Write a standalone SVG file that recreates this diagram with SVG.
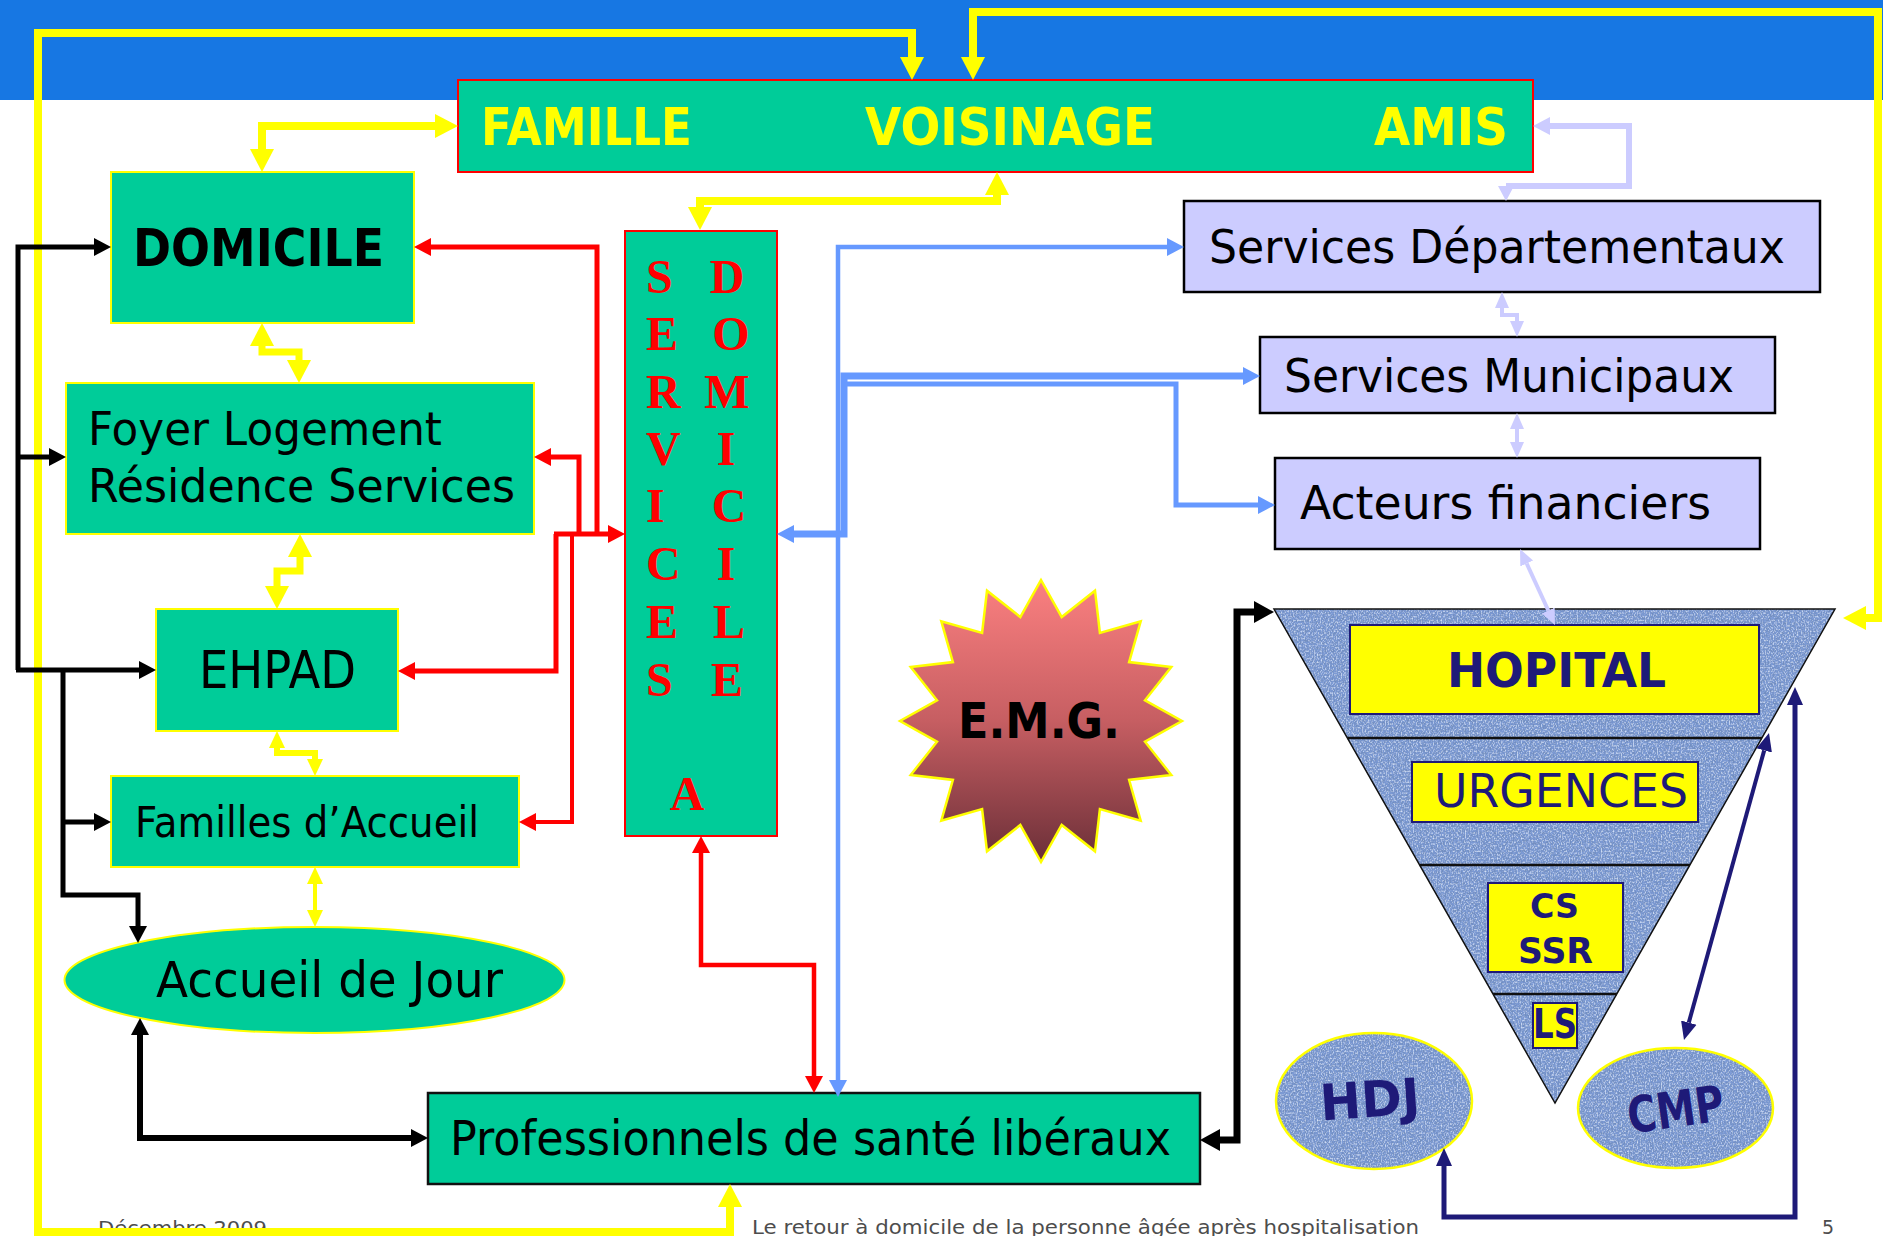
<svg xmlns="http://www.w3.org/2000/svg" width="1883" height="1236" viewBox="0 0 1883 1236">
<defs>
<style>
.t{font-family:"DejaVu Sans","Liberation Sans",sans-serif;}
.b{font-weight:bold;}
.g{fill:#00CC99;}
.lav{fill:#CCCCFF;stroke:#000;stroke-width:2.5;}
.yb{fill:#FFFF00;stroke:#1E1A78;stroke-width:2;}
.nv{fill:#1E1A78;}
.sv{font-family:"Liberation Serif","Times New Roman",serif;font-weight:bold;font-size:48px;fill:#FF0000;}
.ft{font-family:"DejaVu Sans","Liberation Sans",sans-serif;font-size:19px;fill:#4D4D4D;}
.cn{fill:none;stroke-linejoin:miter;}
</style>
<linearGradient id="emg" x1="0" y1="0" x2="0" y2="1">
<stop offset="0" stop-color="#FB8080"/>
<stop offset="0.5" stop-color="#C65E62"/>
<stop offset="1" stop-color="#6B2F38"/>
</linearGradient>
<filter id="denim" x="0" y="0" width="1" height="1">
<feTurbulence type="fractalNoise" baseFrequency="0.6 0.4" numOctaves="2" seed="5" result="n"/>
<feColorMatrix in="n" type="matrix" values="0 0 0 0 0.17  0 0 0 0 0.27  0 0 0 0 0.52  3.2 0 0 0 -1.25" result="dk"/>
<feComposite in="dk" in2="SourceGraphic" operator="in" result="dk2"/>
<feTurbulence type="fractalNoise" baseFrequency="0.75 0.55" numOctaves="1" seed="11" result="n2"/>
<feColorMatrix in="n2" type="matrix" values="0 0 0 0 0.70  0 0 0 0 0.80  0 0 0 0 0.97  2.6 0 0 0 -1.25" result="lt"/>
<feComposite in="lt" in2="SourceGraphic" operator="in" result="lt2"/>
<feMerge><feMergeNode in="SourceGraphic"/><feMergeNode in="dk2"/><feMergeNode in="lt2"/></feMerge>
</filter>
<marker id="aY" markerUnits="userSpaceOnUse" markerWidth="24" markerHeight="26" viewBox="0 -13 24 26" refX="0" refY="0" orient="auto-start-reverse"><path d="M0,-12 L23,0 L0,12 Z" fill="#FFFF00"/></marker>
<marker id="aYs" markerUnits="userSpaceOnUse" markerWidth="18" markerHeight="18" viewBox="0 -9 18 18" refX="0" refY="0" orient="auto-start-reverse"><path d="M0,-8 L17,0 L0,8 Z" fill="#FFFF00"/></marker>
<marker id="aR" markerUnits="userSpaceOnUse" markerWidth="18" markerHeight="20" viewBox="0 -10 18 20" refX="0" refY="0" orient="auto-start-reverse"><path d="M0,-9 L17,0 L0,9 Z" fill="#FF0000"/></marker>
<marker id="aK" markerUnits="userSpaceOnUse" markerWidth="18" markerHeight="20" viewBox="0 -10 18 20" refX="0" refY="0" orient="auto-start-reverse"><path d="M0,-9 L17,0 L0,9 Z" fill="#000"/></marker>
<marker id="aK2" markerUnits="userSpaceOnUse" markerWidth="21" markerHeight="24" viewBox="0 -12 21 24" refX="0" refY="0" orient="auto-start-reverse"><path d="M0,-11 L20,0 L0,11 Z" fill="#000"/></marker>
<marker id="aB" markerUnits="userSpaceOnUse" markerWidth="18" markerHeight="20" viewBox="0 -10 18 20" refX="0" refY="0" orient="auto-start-reverse"><path d="M0,-9 L17,0 L0,9 Z" fill="#6699FF"/></marker>
<marker id="aL" markerUnits="userSpaceOnUse" markerWidth="18" markerHeight="20" viewBox="0 -10 18 20" refX="0" refY="0" orient="auto-start-reverse"><path d="M0,-9 L17,0 L0,9 Z" fill="#CCCCFF"/></marker>
<marker id="aLd" markerUnits="userSpaceOnUse" markerWidth="16" markerHeight="18" viewBox="0 -9 16 18" refX="0" refY="0" orient="90"><path d="M0,-8 L15,0 L0,8 Z" fill="#CCCCFF"/></marker>
<marker id="aLs" markerUnits="userSpaceOnUse" markerWidth="17" markerHeight="16" viewBox="0 -8 17 16" refX="0" refY="0" orient="auto-start-reverse"><path d="M0,-7 L16,0 L0,7 Z" fill="#CCCCFF"/></marker>
<marker id="aN" markerUnits="userSpaceOnUse" markerWidth="19" markerHeight="18" viewBox="0 -9 19 18" refX="0" refY="0" orient="auto-start-reverse"><path d="M0,-8 L18,0 L0,8 Z" fill="#1E1A78"/></marker>
</defs>

<rect x="0" y="0" width="1883" height="1236" fill="#FFFFFF"/>
<rect x="0" y="0" width="1883" height="100" fill="#1777E3"/>

<g id="footer">
<text class="ft" x="98" y="1235" textLength="169" lengthAdjust="spacingAndGlyphs">Décembre 2009</text>
<text class="ft" x="752" y="1234" textLength="667" lengthAdjust="spacingAndGlyphs">Le retour à domicile de la personne âgée après hospitalisation</text>
<text class="ft" x="1822" y="1234">5</text>
</g>

<g id="famille">
<rect class="g" x="458" y="80" width="1075" height="92" stroke="#FF0000" stroke-width="2"/>
<text class="t b" x="481" y="145" font-size="52" fill="#FFFF00" textLength="211" lengthAdjust="spacingAndGlyphs">FAMILLE</text>
<text class="t b" x="865" y="145" font-size="52" fill="#FFFF00" textLength="290" lengthAdjust="spacingAndGlyphs">VOISINAGE</text>
<text class="t b" x="1374" y="145" font-size="52" fill="#FFFF00" textLength="134" lengthAdjust="spacingAndGlyphs">AMIS</text>
</g>

<g id="domicile">
<rect class="g" x="111" y="172" width="303" height="151" stroke="#FFFF00" stroke-width="2"/>
<text class="t b" x="133" y="266" font-size="52" fill="#000" textLength="251" lengthAdjust="spacingAndGlyphs">DOMICILE</text>
</g>

<g id="foyer">
<rect class="g" x="66" y="383" width="468" height="151" stroke="#FFFF00" stroke-width="2"/>
<text class="t" x="88" y="445" font-size="46" fill="#000" textLength="354" lengthAdjust="spacingAndGlyphs">Foyer Logement</text>
<text class="t" x="88" y="502" font-size="46" fill="#000" textLength="427" lengthAdjust="spacingAndGlyphs">Résidence Services</text>
</g>

<g id="ehpad">
<rect class="g" x="156" y="609" width="242" height="122" stroke="#FFFF00" stroke-width="2"/>
<text class="t" x="199" y="688" font-size="52" fill="#000" textLength="157" lengthAdjust="spacingAndGlyphs">EHPAD</text>
</g>

<g id="familles">
<rect class="g" x="111" y="776" width="408" height="91" stroke="#FFFF00" stroke-width="2"/>
<text class="t" x="135" y="837" font-size="42" fill="#000" textLength="344" lengthAdjust="spacingAndGlyphs">Familles d’Accueil</text>
</g>

<g id="accueil-jour">
<ellipse class="g" cx="314.5" cy="980" rx="250" ry="53" stroke="#FFFF00" stroke-width="2"/>
<text class="t" x="156" y="997" font-size="50" fill="#000" textLength="347" lengthAdjust="spacingAndGlyphs">Accueil de Jour</text>
</g>

<g id="professionnels">
<rect class="g" x="428" y="1093" width="772" height="91" stroke="#111" stroke-width="2.5"/>
<text class="t" x="450" y="1155" font-size="48" fill="#000" textLength="721" lengthAdjust="spacingAndGlyphs">Professionnels de santé libéraux</text>
</g>

<g id="services-a-domicile">
<rect class="g" x="625" y="231" width="152" height="605" stroke="#FF0000" stroke-width="2"/>
<text class="sv" x="646" y="293">S</text>
<text class="sv" x="646" y="350">E</text>
<text class="sv" x="646" y="408">R</text>
<text class="sv" x="646" y="465">V</text>
<text class="sv" x="646" y="522">I</text>
<text class="sv" x="646" y="580">C</text>
<text class="sv" x="646" y="638">E</text>
<text class="sv" x="646" y="696">S</text>
<text class="sv" x="727" y="293" text-anchor="middle">D</text>
<text class="sv" x="731" y="350" text-anchor="middle">O</text>
<text class="sv" x="727" y="408" text-anchor="middle">M</text>
<text class="sv" x="726" y="465" text-anchor="middle">I</text>
<text class="sv" x="729" y="522" text-anchor="middle">C</text>
<text class="sv" x="726" y="580" text-anchor="middle">I</text>
<text class="sv" x="729" y="638" text-anchor="middle">L</text>
<text class="sv" x="727" y="696" text-anchor="middle">E</text>
<text class="sv" x="687" y="810" text-anchor="middle">A</text>
</g>

<g id="services-departementaux">
<rect class="lav" x="1184" y="201" width="636" height="91"/>
<text class="t" x="1209" y="263" font-size="47" fill="#000" textLength="576" lengthAdjust="spacingAndGlyphs">Services Départementaux</text>
</g>

<g id="services-municipaux">
<rect class="lav" x="1260" y="337" width="515" height="76"/>
<text class="t" x="1284" y="392" font-size="47" fill="#000" textLength="450" lengthAdjust="spacingAndGlyphs">Services Municipaux</text>
</g>

<g id="acteurs-financiers">
<rect class="lav" x="1275" y="458" width="485" height="91"/>
<text class="t" x="1300" y="519" font-size="46" fill="#000" textLength="411" lengthAdjust="spacingAndGlyphs">Acteurs financiers</text>
</g>

<g id="emg">
<polygon points="1041,580 1061.7,617 1095,590.7 1099.9,632.9 1140.7,621.3 1129.1,662.1 1171.3,667 1145,700.3 1182,721 1145,741.7 1171.3,775 1129.1,779.9 1140.7,820.7 1099.9,809.1 1095,851.3 1061.7,825 1041,862 1020.3,825 987,851.3 982.1,809.1 941.3,820.7 952.9,779.9 910.7,775 937,741.7 900,721 937,700.3 910.7,667 952.9,662.1 941.3,621.3 982.1,632.9 987,590.7 1020.3,617" fill="url(#emg)" stroke="#FFFF00" stroke-width="2.5" stroke-linejoin="miter"/>
<text class="t b" x="958" y="738" font-size="50" fill="#000" textLength="162" lengthAdjust="spacingAndGlyphs">E.M.G.</text>
</g>

<g id="hopital-pyramide">
<polygon points="1274,609 1835,609 1555,1103" fill="#7B9AD4" filter="url(#denim)"/>
<polygon points="1274,609 1835,609 1555,1103" fill="none" stroke="#111" stroke-width="1.5"/>
<line x1="1347.4" y1="738" x2="1762" y2="738" stroke="#111" stroke-width="2.5"/>
<line x1="1419.6" y1="865" x2="1690" y2="865" stroke="#111" stroke-width="2.5"/>
<line x1="1493" y1="994" x2="1617" y2="994" stroke="#111" stroke-width="2.5"/>
</g>

<g id="hopital">
<rect class="yb" x="1350" y="625" width="409" height="89"/>
<text class="t b nv" x="1447" y="687" font-size="48" textLength="219" lengthAdjust="spacingAndGlyphs">HOPITAL</text>
</g>
<g id="urgences">
<rect class="yb" x="1412" y="762" width="286" height="60"/>
<text class="t nv" x="1434" y="807" font-size="46" textLength="254" lengthAdjust="spacingAndGlyphs">URGENCES</text>
</g>
<g id="cs-ssr">
<rect class="yb" x="1488" y="883" width="135" height="89"/>
<text class="t b nv" x="1530" y="918" font-size="34" textLength="49" lengthAdjust="spacingAndGlyphs">CS</text>
<text class="t b nv" x="1518" y="963" font-size="35" textLength="75" lengthAdjust="spacingAndGlyphs">SSR</text>
</g>
<g id="ls">
<rect class="yb" x="1533" y="1003" width="44" height="45"/>
<text class="t b nv" x="1533" y="1038" font-size="40" textLength="44" lengthAdjust="spacingAndGlyphs">LS</text>
</g>

<g id="hdj">
<ellipse cx="1374" cy="1101" rx="98" ry="68" fill="#7B9AD4" filter="url(#denim)"/>
<ellipse cx="1374" cy="1101" rx="98" ry="68" fill="none" stroke="#FFFF00" stroke-width="2.5"/>
<text class="t b nv" x="1320" y="1117" font-size="50" textLength="100" lengthAdjust="spacingAndGlyphs" transform="rotate(-4 1370 1100)">HDJ</text>
</g>

<g id="cmp">
<ellipse cx="1675.5" cy="1108" rx="97.5" ry="60" fill="#7B9AD4" filter="url(#denim)"/>
<ellipse cx="1675.5" cy="1108" rx="97.5" ry="60" fill="none" stroke="#FFFF00" stroke-width="2.5"/>
<text class="t b nv" x="1627" y="1127" font-size="50" textLength="97" lengthAdjust="spacingAndGlyphs" transform="rotate(-8 1675 1108)">CMP</text>
</g>

<g id="connectors" class="cn">
<path d="M730,1207 V1232 H38 V33 H912 V57" stroke="#FFFF00" stroke-width="8" fill="none" marker-start="url(#aY)" marker-end="url(#aY)"/>
<path d="M973,57 V12 H1878 V618 H1866" stroke="#FFFF00" stroke-width="8" fill="none" marker-start="url(#aY)" marker-end="url(#aY)"/>
<path d="M262,149 V126 H435" stroke="#FFFF00" stroke-width="8" fill="none" marker-start="url(#aY)" marker-end="url(#aY)"/>
<path d="M700,207 V201 H997 V195" stroke="#FFFF00" stroke-width="8" fill="none" marker-start="url(#aY)" marker-end="url(#aY)"/>
<path d="M262,346 V352 H299 V360" stroke="#FFFF00" stroke-width="7" fill="none" marker-start="url(#aY)" marker-end="url(#aY)"/>
<path d="M300,557 V571 H277 V586" stroke="#FFFF00" stroke-width="7" fill="none" marker-start="url(#aY)" marker-end="url(#aY)"/>
<path d="M277,748 V753 H315 V759" stroke="#FFFF00" stroke-width="6" fill="none" marker-start="url(#aYs)" marker-end="url(#aYs)"/>
<path d="M315,884 V910" stroke="#FFFF00" stroke-width="4" fill="none" marker-start="url(#aYs)" marker-end="url(#aYs)"/>
<path d="M18,670 V247 H94" stroke="#000" stroke-width="5" fill="none" marker-end="url(#aK)"/>
<path d="M18,457 H49" stroke="#000" stroke-width="5" fill="none" marker-end="url(#aK)"/>
<path d="M16,670 H139" stroke="#000" stroke-width="5" fill="none" marker-end="url(#aK)"/>
<path d="M63,670 V895 H138 V926" stroke="#000" stroke-width="5" fill="none" marker-end="url(#aK)"/>
<path d="M63,822 H94" stroke="#000" stroke-width="5" fill="none" marker-end="url(#aK)"/>
<path d="M140,1035 V1138 H411" stroke="#000" stroke-width="6" fill="none" marker-start="url(#aK)" marker-end="url(#aK)"/>
<path d="M1220,1140 H1237 V612 H1254" stroke="#000" stroke-width="7" fill="none" marker-start="url(#aK2)" marker-end="url(#aK2)"/>
<path d="M431,247 H597 V534" stroke="#FF0000" stroke-width="5" fill="none" marker-start="url(#aR)"/>
<path d="M551,457 H579 V534" stroke="#FF0000" stroke-width="5" fill="none" marker-start="url(#aR)"/>
<path d="M415,671 H556 V534" stroke="#FF0000" stroke-width="5" fill="none" marker-start="url(#aR)"/>
<path d="M536,822 H572 V534" stroke="#FF0000" stroke-width="4" fill="none" marker-start="url(#aR)"/>
<path d="M554,534 H608" stroke="#FF0000" stroke-width="5" fill="none" marker-end="url(#aR)"/>
<path d="M701,853 V965 H814 V1076" stroke="#FF0000" stroke-width="4.5" fill="none" marker-start="url(#aR)" marker-end="url(#aR)"/>
<path d="M1167,247 H838 V1080" stroke="#6699FF" stroke-width="4.5" fill="none" marker-start="url(#aB)" marker-end="url(#aB)"/>
<path d="M1243,376 H844 V534 H794" stroke="#6699FF" stroke-width="7" fill="none" marker-start="url(#aB)" marker-end="url(#aB)"/>
<path d="M846,384 H1176 V505 H1258" stroke="#6699FF" stroke-width="5" fill="none" marker-end="url(#aB)"/>
<path d="M1550,126 H1629 V186 H1506" stroke="#CCCCFF" stroke-width="6" fill="none" marker-start="url(#aL)" marker-end="url(#aLd)"/>
<path d="M1502,308 V315 H1517 V321" stroke="#CCCCFF" stroke-width="4" fill="none" marker-start="url(#aLs)" marker-end="url(#aLs)"/>
<path d="M1517,429 V442" stroke="#CCCCFF" stroke-width="4" fill="none" marker-start="url(#aLs)" marker-end="url(#aLs)"/>
<path d="M1526.7,563.5 L1548.3,610.5" stroke="#CCCCFF" stroke-width="4" fill="none" marker-start="url(#aLs)" marker-end="url(#aLs)"/>
<path d="M1764.2,750.4 L1688.8,1022.6" stroke="#1E1A78" stroke-width="4" fill="none" marker-start="url(#aN)" marker-end="url(#aN)"/>
<path d="M1444,1166 V1217 H1795 V705" stroke="#1E1A78" stroke-width="5" fill="none" marker-start="url(#aN)" marker-end="url(#aN)"/>
</g>
</svg>
